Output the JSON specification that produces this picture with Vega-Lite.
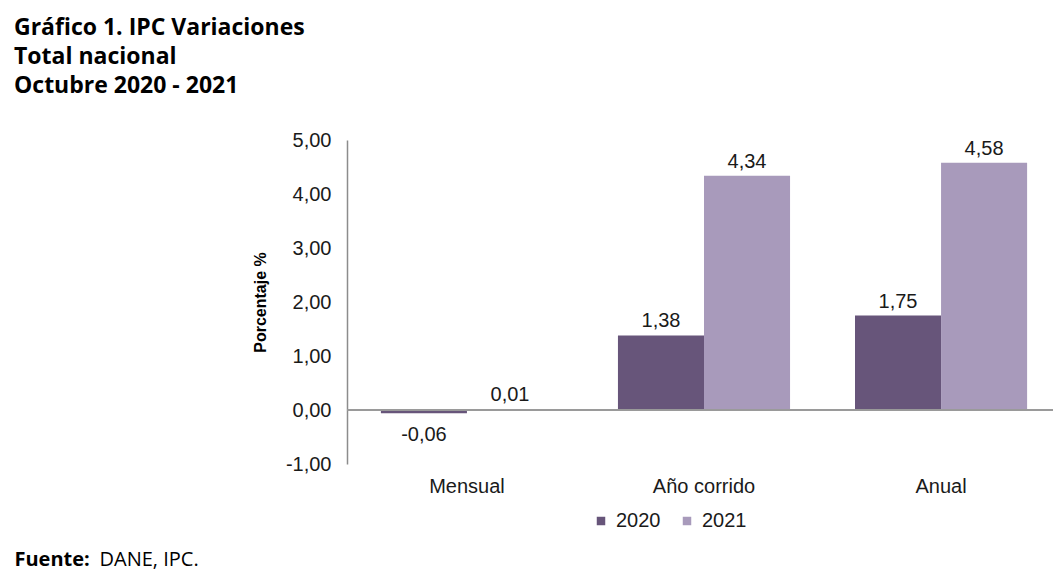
{
  "$schema": "https://vega.github.io/schema/vega-lite/v6.json",
  "width": 714,
  "height": 324,
  "autosize": {"type": "pad"},
  "padding": {"left": 14, "top": 17, "right": 0, "bottom": 0},
  "background": "white",
  "config": {
    "locale": {"number": {"decimal": ",", "thousands": ".", "grouping": [3], "currency": ["$", ""], "minus": "-"}},
    "view": {"stroke": null},
    "font": "Liberation Sans"
  },
  "title": {
    "text": ["Gráfico 1. IPC Variaciones", "Total nacional", "Octubre 2020 - 2021"],
    "anchor": "start",
    "frame": "group",
    "dx": -333,
    "font": "Open Sans",
    "fontSize": 23,
    "fontWeight": "bold",
    "lineHeight": 29,
    "offset": 32,
    "color": "#000000"
  },
  "data": {
    "values": [
      {"cat": "Mensual", "year": "2020", "value": -0.06},
      {"cat": "Mensual", "year": "2021", "value": 0.01},
      {"cat": "Año corrido", "year": "2020", "value": 1.38},
      {"cat": "Año corrido", "year": "2021", "value": 4.34},
      {"cat": "Anual", "year": "2020", "value": 1.75},
      {"cat": "Anual", "year": "2021", "value": 4.58}
    ]
  },
  "layer": [
    {
      "mark": {"type": "bar"},
      "encoding": {
        "x": {
          "field": "cat",
          "type": "nominal",
          "sort": ["Mensual", "Año corrido", "Anual"],
          "scale": {"paddingInner": 0.274, "paddingOuter": 0.143},
          "axis": {
            "orient": "bottom",
            "labelAngle": 0,
            "labelFont": "Liberation Sans",
            "labelFontSize": 20,
            "labelColor": "#1a1a1a",
            "labelPadding": 12,
            "labelBaseline": "top",
            "ticks": false,
            "domain": false,
            "title": "Fuente:",
            "titleFont": "Open Sans",
            "titleFontSize": 20,
            "titleFontWeight": "bold",
            "titleColor": "#000000",
            "titleAlign": "left",
            "titleAnchor": "start",
            "titleBaseline": "alphabetic",
            "titleX": -333,
            "titleY": 101
          }
        },
        "xOffset": {"field": "year", "type": "nominal", "scale": {"paddingInner": 0, "paddingOuter": 0}},
        "y": {
          "field": "value",
          "type": "quantitative",
          "scale": {"domain": [-1, 5], "nice": false, "zero": false},
          "axis": {
            "title": "Porcentaje %",
            "titleFont": "Liberation Sans",
            "titleFontSize": 16,
            "titleFontWeight": "bold",
            "titleColor": "#000000",
            "titlePadding": 17,
            "values": [-1, 0, 1, 2, 3, 4, 5],
            "format": ".2f",
            "labelFont": "Liberation Sans",
            "labelFontSize": 20,
            "labelColor": "#1a1a1a",
            "labelPadding": 16,
            "ticks": false,
            "grid": false,
            "domainColor": "#8c8c8c",
            "domainWidth": 1.5
          }
        },
        "color": {
          "field": "year",
          "type": "nominal",
          "scale": {"domain": ["2020", "2021"], "range": ["#67557a", "#a89abb"]},
          "legend": {
            "title": null,
            "orient": "none",
            "direction": "horizontal",
            "legendX": 244,
            "legendY": 371,
            "symbolType": "square",
            "symbolSize": 72,
            "symbolStrokeWidth": 0,
            "labelFont": "Liberation Sans",
            "labelFontSize": 20,
            "labelColor": "#1a1a1a",
            "labelOffset": 5,
            "columnPadding": 16
          }
        }
      }
    },
    {
      "mark": {"type": "rule", "color": "#9a9a9a", "strokeWidth": 1.5},
      "encoding": {"y": {"datum": 0}}
    },
    {
      "transform": [{"filter": "datum.value >= 0"}],
      "mark": {"type": "text", "baseline": "alphabetic", "dy": -8, "font": "Liberation Sans", "fontSize": 20, "color": "#1a1a1a"},
      "encoding": {
        "x": {"field": "cat", "type": "nominal", "sort": ["Mensual", "Año corrido", "Anual"], "axis": null},
        "xOffset": {"field": "year", "type": "nominal"},
        "y": {"field": "value", "type": "quantitative"},
        "text": {"field": "value", "type": "quantitative", "format": ".2f"}
      }
    },
    {
      "transform": [{"filter": "datum.value < 0"}],
      "mark": {"type": "text", "baseline": "top", "dy": 12, "font": "Liberation Sans", "fontSize": 20, "color": "#1a1a1a"},
      "encoding": {
        "x": {
          "field": "cat",
          "type": "nominal",
          "sort": ["Mensual", "Año corrido", "Anual"],
          "axis": {
            "orient": "bottom",
            "labels": false,
            "ticks": false,
            "domain": false,
            "title": "DANE, IPC.",
            "titleFont": "Open Sans",
            "titleFontSize": 20,
            "titleFontWeight": "normal",
            "titleColor": "#000000",
            "titleAlign": "left",
            "titleAnchor": "start",
            "titleBaseline": "alphabetic",
            "titleX": -248,
            "titleY": 101
          }
        },
        "xOffset": {"field": "year", "type": "nominal"},
        "y": {"field": "value", "type": "quantitative"},
        "text": {"field": "value", "type": "quantitative", "format": ".2f"}
      }
    }
  ],
  "resolve": {"axis": {"x": "independent"}}
}
